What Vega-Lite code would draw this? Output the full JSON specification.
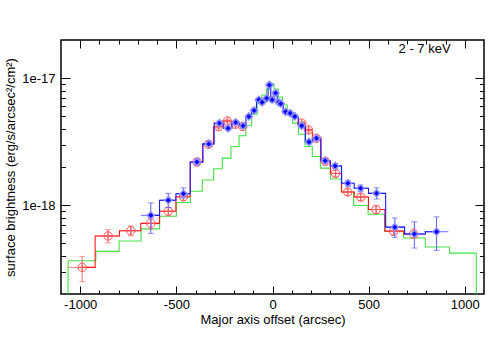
{
  "$schema": "https://vega.github.io/schema/vega-lite/v6.json",
  "width": 423,
  "height": 254,
  "autosize": {"type": "none"},
  "padding": {"left": 61, "top": 40, "right": 18, "bottom": 58},
  "background": "white",
  "config": {
    "view": {"stroke": "black", "strokeWidth": 1.5},
    "font": "Liberation Sans",
    "axis": {"grid": false, "domain": false, "tickColor": "black", "tickWidth": 1, "labelColor": "black", "titleColor": "black", "labelFontSize": 13, "titleFontSize": 13, "titleFontWeight": "normal", "labelFont": "Liberation Sans", "titleFont": "Liberation Sans"}
  },
  "datasets": {
    "green": [
      {"i": 0, "x": -1063, "y": 1e-20},
      {"i": 1, "x": -1063, "y": 3.65e-19},
      {"i": 2, "x": -919, "y": 4.33e-19},
      {"i": 3, "x": -798, "y": 5.23e-19},
      {"i": 4, "x": -684, "y": 6.51e-19},
      {"i": 5, "x": -587, "y": 8.19e-19},
      {"i": 6, "x": -500, "y": 1.05e-18},
      {"i": 7, "x": -427, "y": 1.29e-18},
      {"i": 8, "x": -365, "y": 1.58e-18},
      {"i": 9, "x": -306, "y": 1.94e-18},
      {"i": 10, "x": -261, "y": 2.35e-18},
      {"i": 11, "x": -216, "y": 2.9e-18},
      {"i": 12, "x": -174, "y": 3.52e-18},
      {"i": 13, "x": -139, "y": 4.22e-18},
      {"i": 14, "x": -108, "y": 5.22e-18},
      {"i": 15, "x": -80, "y": 6.38e-18},
      {"i": 16, "x": -55, "y": 7.38e-18},
      {"i": 17, "x": -32, "y": 8.23e-18},
      {"i": 18, "x": -12, "y": 9.02e-18},
      {"i": 19, "x": 8, "y": 8.23e-18},
      {"i": 20, "x": 30, "y": 7.11e-18},
      {"i": 21, "x": 52, "y": 6.15e-18},
      {"i": 22, "x": 77, "y": 5.31e-18},
      {"i": 23, "x": 105, "y": 4.43e-18},
      {"i": 24, "x": 135, "y": 3.62e-18},
      {"i": 25, "x": 169, "y": 2.9e-18},
      {"i": 26, "x": 207, "y": 2.42e-18},
      {"i": 27, "x": 249, "y": 1.96e-18},
      {"i": 28, "x": 301, "y": 1.61e-18},
      {"i": 29, "x": 358, "y": 1.27e-18},
      {"i": 30, "x": 422, "y": 9.95e-19},
      {"i": 31, "x": 497, "y": 8.49e-19},
      {"i": 32, "x": 583, "y": 6.23e-19},
      {"i": 33, "x": 682, "y": 5.52e-19},
      {"i": 34, "x": 795, "y": 4.69e-19},
      {"i": 35, "x": 921, "y": 4.2e-19},
      {"i": 36, "x": 1060, "y": 4.2e-19},
      {"i": 37, "x": 1060, "y": 1e-20}
    ],
    "red": [
      {"seg": "L", "x": -990, "y": 3.24e-19, "xlo": -1063, "xhi": -919, "ylo": 2.5e-19, "yhi": 3.95e-19},
      {"seg": "L", "x": -855, "y": 5.73e-19, "xlo": -919, "xhi": -798, "ylo": 5.04e-19, "yhi": 6.42e-19},
      {"seg": "L", "x": -737, "y": 6.3e-19, "xlo": -798, "xhi": -684, "ylo": 5.75e-19, "yhi": 6.87e-19},
      {"seg": "L", "x": -633, "y": 7.2e-19, "xlo": -684, "xhi": -587, "ylo": 6.5e-19, "yhi": 7.9e-19},
      {"seg": "L", "x": -542, "y": 8.97e-19, "xlo": -587, "xhi": -500, "ylo": 8.3e-19, "yhi": 9.6e-19},
      {"seg": "L", "x": -463, "y": 1.165e-18, "xlo": -500, "xhi": -427, "ylo": 1.09e-18, "yhi": 1.24e-18},
      {"seg": "L", "x": -393, "y": 2.19e-18, "xlo": -427, "xhi": -365, "ylo": 2.08e-18, "yhi": 2.3e-18},
      {"seg": "L", "x": -333, "y": 3.02e-18, "xlo": -365, "xhi": -306, "ylo": 2.9e-18, "yhi": 3.15e-18},
      {"seg": "L", "x": -280, "y": 4.15e-18, "xlo": -306, "xhi": -261, "ylo": 4.0e-18, "yhi": 4.3e-18},
      {"seg": "L", "x": -235, "y": 4.6e-18, "xlo": -261, "xhi": -216, "ylo": 4.45e-18, "yhi": 4.75e-18},
      {"seg": "L", "x": -193, "y": 4.35e-18, "xlo": -216, "xhi": -174, "ylo": 4.2e-18, "yhi": 4.5e-18},
      {"seg": "L", "x": -155, "y": 4.17e-18, "xlo": -174, "xhi": -139, "ylo": 4.03e-18, "yhi": 4.31e-18},
      {"seg": "R", "x": 152, "y": 4.43e-18, "xlo": 135, "xhi": 169, "ylo": 4.28e-18, "yhi": 4.58e-18},
      {"seg": "R", "x": 187, "y": 3.92e-18, "xlo": 169, "xhi": 207, "ylo": 3.78e-18, "yhi": 4.06e-18},
      {"seg": "R", "x": 228, "y": 3.37e-18, "xlo": 207, "xhi": 249, "ylo": 3.25e-18, "yhi": 3.49e-18},
      {"seg": "R", "x": 275, "y": 2.22e-18, "xlo": 249, "xhi": 301, "ylo": 2.12e-18, "yhi": 2.32e-18},
      {"seg": "R", "x": 328, "y": 1.78e-18, "xlo": 301, "xhi": 358, "ylo": 1.69e-18, "yhi": 1.87e-18},
      {"seg": "R", "x": 391, "y": 1.27e-18, "xlo": 358, "xhi": 422, "ylo": 1.2e-18, "yhi": 1.34e-18},
      {"seg": "R", "x": 459, "y": 1.16e-18, "xlo": 422, "xhi": 497, "ylo": 1.09e-18, "yhi": 1.23e-18},
      {"seg": "R", "x": 539, "y": 9.25e-19, "xlo": 497, "xhi": 583, "ylo": 8.6e-19, "yhi": 9.9e-19},
      {"seg": "R", "x": 630, "y": 6.25e-19, "xlo": 583, "xhi": 682, "ylo": 5.8e-19, "yhi": 6.8e-19},
      {"seg": "R", "x": 735, "y": 5.92e-19, "xlo": 682, "xhi": 795, "ylo": 5.5e-19, "yhi": 6.5e-19}
    ],
    "blue": [
      {"x": -633, "y": 8.32e-19, "xlo": -684, "xhi": -587, "ylo": 6.0e-19, "yhi": 1.045e-18},
      {"x": -542, "y": 1.096e-18, "xlo": -587, "xhi": -500, "ylo": 9.6e-19, "yhi": 1.24e-18},
      {"x": -463, "y": 1.23e-18, "xlo": -500, "xhi": -427, "ylo": 1.14e-18, "yhi": 1.37e-18},
      {"x": -393, "y": 2.19e-18, "xlo": -427, "xhi": -365, "ylo": 2.07e-18, "yhi": 2.32e-18},
      {"x": -331, "y": 3.04e-18, "xlo": -365, "xhi": -306, "ylo": 2.9e-18, "yhi": 3.2e-18},
      {"x": -276, "y": 4.43e-18, "xlo": -306, "xhi": -250, "ylo": 4.25e-18, "yhi": 4.6e-18},
      {"x": -231, "y": 4.03e-18, "xlo": -250, "xhi": -211, "ylo": 3.88e-18, "yhi": 4.18e-18},
      {"x": -191, "y": 4.49e-18, "xlo": -211, "xhi": -172, "ylo": 4.33e-18, "yhi": 4.65e-18},
      {"x": -153, "y": 4.22e-18, "xlo": -172, "xhi": -137, "ylo": 4.07e-18, "yhi": 4.37e-18},
      {"x": -123, "y": 5.0e-18, "xlo": -137, "xhi": -109, "ylo": 4.83e-18, "yhi": 5.17e-18},
      {"x": -96, "y": 5.58e-18, "xlo": -109, "xhi": -83, "ylo": 5.4e-18, "yhi": 5.76e-18},
      {"x": -71, "y": 6.77e-18, "xlo": -83, "xhi": -62, "ylo": 6.55e-18, "yhi": 7.0e-18},
      {"x": -54, "y": 6.46e-18, "xlo": -62, "xhi": -42, "ylo": 6.25e-18, "yhi": 6.67e-18},
      {"x": -30, "y": 6.95e-18, "xlo": -42, "xhi": -23, "ylo": 6.72e-18, "yhi": 7.18e-18},
      {"x": -16, "y": 8.85e-18, "xlo": -23, "xhi": -9, "ylo": 8.55e-18, "yhi": 9.15e-18},
      {"x": -2, "y": 6.77e-18, "xlo": -9, "xhi": 7, "ylo": 6.55e-18, "yhi": 7.0e-18},
      {"x": 16, "y": 7.65e-18, "xlo": 7, "xhi": 25, "ylo": 7.4e-18, "yhi": 7.9e-18},
      {"x": 33, "y": 6.46e-18, "xlo": 25, "xhi": 38, "ylo": 6.25e-18, "yhi": 6.67e-18},
      {"x": 43, "y": 6.3e-18, "xlo": 38, "xhi": 55, "ylo": 6.1e-18, "yhi": 6.5e-18},
      {"x": 68, "y": 5.44e-18, "xlo": 55, "xhi": 80, "ylo": 5.26e-18, "yhi": 5.62e-18},
      {"x": 92, "y": 5.31e-18, "xlo": 80, "xhi": 104, "ylo": 5.13e-18, "yhi": 5.49e-18},
      {"x": 116, "y": 5.0e-18, "xlo": 104, "xhi": 134, "ylo": 4.83e-18, "yhi": 5.17e-18},
      {"x": 152, "y": 4.22e-18, "xlo": 134, "xhi": 170, "ylo": 4.07e-18, "yhi": 4.37e-18},
      {"x": 190, "y": 3.15e-18, "xlo": 170, "xhi": 210, "ylo": 3.03e-18, "yhi": 3.27e-18},
      {"x": 229, "y": 3.37e-18, "xlo": 210, "xhi": 250, "ylo": 3.25e-18, "yhi": 3.49e-18},
      {"x": 274, "y": 2.24e-18, "xlo": 250, "xhi": 300, "ylo": 2.15e-18, "yhi": 2.33e-18},
      {"x": 326, "y": 2.04e-18, "xlo": 300, "xhi": 358, "ylo": 1.95e-18, "yhi": 2.13e-18},
      {"x": 392, "y": 1.49e-18, "xlo": 358, "xhi": 422, "ylo": 1.41e-18, "yhi": 1.57e-18},
      {"x": 458, "y": 1.36e-18, "xlo": 422, "xhi": 500, "ylo": 1.28e-18, "yhi": 1.44e-18},
      {"x": 541, "y": 1.24e-18, "xlo": 500, "xhi": 583, "ylo": 1.12e-18, "yhi": 1.37e-18},
      {"x": 636, "y": 6.72e-19, "xlo": 583, "xhi": 690, "ylo": 5.58e-19, "yhi": 7.94e-19},
      {"x": 738, "y": 5.94e-19, "xlo": 690, "xhi": 790, "ylo": 4.6e-19, "yhi": 7.4e-19},
      {"x": 853, "y": 6.19e-19, "xlo": 790, "xhi": 915, "ylo": 4.4e-19, "yhi": 8.1e-19}
    ],
    "label": [{"x": 791, "y": 1.7e-17, "text": "2 - 7 keV"}]
  },
  "resolve": {"axis": {"x": "independent", "y": "independent"}},
  "layer": [
    {
      "data": {"name": "green"},
      "mark": {"type": "line", "interpolate": "step-after", "color": "#44e044", "strokeWidth": 1.1, "clip": true},
      "encoding": {
        "x": {"field": "x", "type": "quantitative", "scale": {"domain": [-1100, 1100], "nice": false, "zero": false},
              "axis": {"orient": "bottom", "values": [-1000, -500, 0, 500, 1000], "tickSize": -8, "labelPadding": 12, "labelExpr": "'' + datum.value", "title": "Major axis offset (arcsec)", "titlePadding": 2}},
        "y": {"field": "y", "type": "quantitative", "scale": {"type": "log", "domain": [2e-19, 2e-17], "nice": false},
              "axis": {"orient": "left", "values": [1e-18, 1e-17], "tickSize": -9, "labelPadding": 15, "format": ".0e", "title": "surface brightness (erg/s/arcsec²/cm²)", "titlePadding": 4}},
        "order": {"field": "i", "type": "quantitative"}
      }
    },
    {
      "data": {"name": "red"},
      "mark": {"type": "rule", "color": "#ff8a8a", "strokeWidth": 1.1},
      "encoding": {
        "x": {"field": "xlo", "type": "quantitative", "scale": {"domain": [-1100, 1100], "nice": false, "zero": false},
              "axis": {"orient": "top", "values": [-1000, -500, 0, 500, 1000], "tickSize": -8, "labels": false, "title": null}},
        "x2": {"field": "xhi"},
        "y": {"field": "y", "type": "quantitative", "scale": {"type": "log", "domain": [2e-19, 2e-17], "nice": false},
              "axis": {"orient": "right", "values": [1e-18, 1e-17], "tickSize": -9, "labels": false, "title": null}}
      }
    },
    {
      "data": {"name": "red"},
      "mark": {"type": "errorbar", "ticks": {"size": 6, "color": "#ff7a7a"}, "color": "#ff7a7a", "thickness": 1.1},
      "encoding": {
        "x": {"field": "x", "type": "quantitative", "axis": null},
        "y": {"field": "ylo", "type": "quantitative", "axis": null},
        "y2": {"field": "yhi"}
      }
    },
    {
      "data": {"name": "red"},
      "mark": {"type": "line", "interpolate": "step", "color": "#ff1a1a", "strokeWidth": 1.1},
      "encoding": {
        "x": {"field": "x", "type": "quantitative",
              "axis": {"orient": "bottom", "values": [-900, -800, -700, -600, -400, -300, -200, -100, 100, 200, 300, 400, 600, 700, 800, 900], "tickSize": -4, "labels": false, "title": null}},
        "y": {"field": "y", "type": "quantitative",
              "axis": {"orient": "left", "values": [3e-19, 4e-19, 5e-19, 6e-19, 7e-19, 8e-19, 9e-19, 2e-18, 3e-18, 4e-18, 5e-18, 6e-18, 7e-18, 8e-18, 9e-18], "tickSize": -4.5, "labels": false, "title": null}},
        "detail": {"field": "seg"}
      }
    },
    {
      "data": {"name": "red"},
      "mark": {"type": "point", "shape": "M-1,0A1,1,0,1,0,1,0A1,1,0,1,0,-1,0ZM-1,0L1,0M0,-1L0,1", "filled": false, "color": "#ff5a5a", "size": 72, "strokeWidth": 1, "opacity": 1},
      "encoding": {
        "x": {"field": "x", "type": "quantitative", "axis": null},
        "y": {"field": "y", "type": "quantitative", "axis": null}
      }
    },
    {
      "data": {"name": "blue"},
      "mark": {"type": "rule", "color": "#7a7aff", "strokeWidth": 1.1},
      "encoding": {
        "x": {"field": "xlo", "type": "quantitative",
              "axis": {"orient": "top", "values": [-900, -800, -700, -600, -400, -300, -200, -100, 100, 200, 300, 400, 600, 700, 800, 900], "tickSize": -4, "labels": false, "title": null}},
        "x2": {"field": "xhi"},
        "y": {"field": "y", "type": "quantitative",
              "axis": {"orient": "right", "values": [3e-19, 4e-19, 5e-19, 6e-19, 7e-19, 8e-19, 9e-19, 2e-18, 3e-18, 4e-18, 5e-18, 6e-18, 7e-18, 8e-18, 9e-18], "tickSize": -4.5, "labels": false, "title": null}}
      }
    },
    {
      "data": {"name": "blue"},
      "mark": {"type": "errorbar", "ticks": {"size": 6, "color": "#6a6aff"}, "color": "#6a6aff", "thickness": 1.1},
      "encoding": {
        "x": {"field": "x", "type": "quantitative", "axis": null},
        "y": {"field": "ylo", "type": "quantitative", "axis": null},
        "y2": {"field": "yhi"}
      }
    },
    {
      "data": {"name": "blue"},
      "mark": {"type": "line", "interpolate": "step", "color": "#1a1aff", "strokeWidth": 1.1},
      "encoding": {
        "x": {"field": "x", "type": "quantitative", "axis": null},
        "y": {"field": "y", "type": "quantitative", "axis": null}
      }
    },
    {
      "data": {"name": "blue"},
      "mark": {"type": "point", "shape": "diamond", "filled": true, "color": "#0000ff", "stroke": "#8c8cff", "strokeWidth": 1.5, "size": 50, "opacity": 1},
      "encoding": {
        "x": {"field": "x", "type": "quantitative", "axis": null},
        "y": {"field": "y", "type": "quantitative", "axis": null}
      }
    },
    {
      "data": {"name": "label"},
      "mark": {"type": "text", "font": "Liberation Sans", "fontSize": 13, "color": "black", "align": "center", "baseline": "middle"},
      "encoding": {
        "x": {"field": "x", "type": "quantitative", "axis": null},
        "y": {"field": "y", "type": "quantitative", "axis": null},
        "text": {"field": "text"}
      }
    }
  ]
}
